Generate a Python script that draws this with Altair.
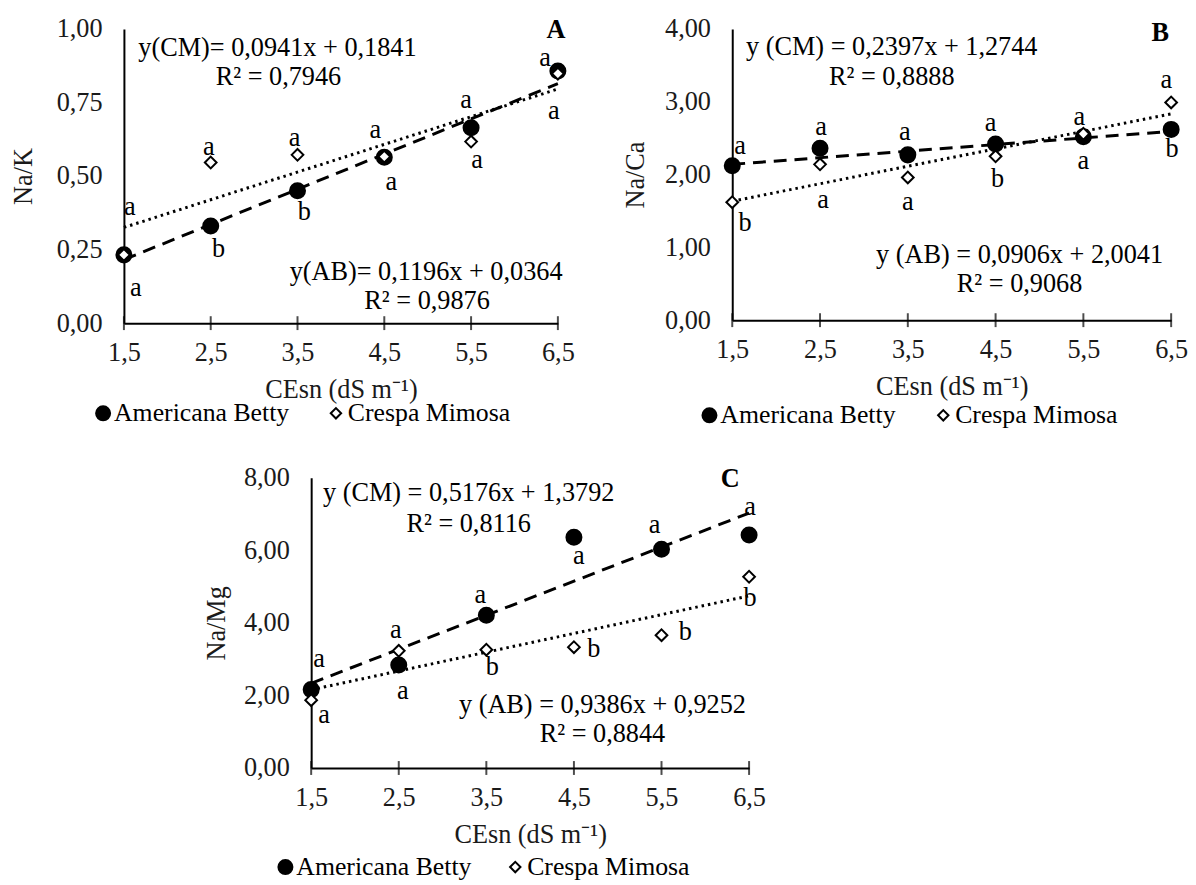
import altair as alt
import pandas as pd

FONT = "Liberation Serif"
FS = 26.5
LFS = 26

# ---------------- data ----------------
x_levels = [1.5, 2.5, 3.5, 4.5, 5.5, 6.5]
series_names = ["Americana Betty", "Crespa Mimosa"]

# Panel A : Na/K
nak_ab = [0.232, 0.33, 0.45, 0.564, 0.664, 0.857]
nak_cm = [0.232, 0.546, 0.572, 0.566, 0.617, 0.848]
nak_ab_letters = ["a", "b", "b", "a", "a", "a"]
nak_cm_letters = ["a", "a", "a", "a", "a", "a"]

# Panel B : Na/Ca
naca_ab = [2.12, 2.36, 2.27, 2.42, 2.52, 2.62]
naca_cm = [1.62, 2.14, 1.96, 2.25, 2.56, 2.99]
naca_ab_letters = ["a", "a", "a", "a", "a", "b"]
naca_cm_letters = ["b", "a", "a", "b", "a", "a"]

# Panel C : Na/Mg
namg_ab = [2.16, 2.84, 4.21, 6.36, 6.03, 6.42]
namg_cm = [1.87, 3.23, 3.26, 3.33, 3.66, 5.27]
namg_ab_letters = ["a", "a", "a", "a", "a", "a"]
namg_cm_letters = ["a", "a", "b", "b", "b", "b"]

# printed trendline coefficients (slope, intercept)
nak_coef = {"Americana Betty": (0.1196, 0.0364), "Crespa Mimosa": (0.0941, 0.1841)}
naca_coef = {"Americana Betty": (0.0906, 2.0041), "Crespa Mimosa": (0.2397, 1.2744)}
namg_coef = {"Americana Betty": (0.9386, 0.9252), "Crespa Mimosa": (0.5176, 1.3792)}

nak_text = ["y(CM)= 0,0941x + 0,1841", "R² = 0,7946", "y(AB)= 0,1196x + 0,0364", "R² = 0,9876", "A"]
naca_text = ["y (CM) = 0,2397x + 1,2744", "R² = 0,8888", "y (AB) = 0,0906x + 2,0041", "R² = 0,9068", "B"]
namg_text = ["y (CM) = 0,5176x + 1,3792", "R² = 0,8116", "y (AB) = 0,9386x + 0,9252", "R² = 0,8844", "C"]

# ---------------- placement of labels (pixels) ----------------
nak_ab_off = [(12, 34), (8, 23), (7, 22), (7, 25), (-5, -28), (-13, -13)]
nak_cm_off = [(6, -48), (-2, -16), (-3, -17), (-9, -27), (6, 19), (-4, 38)]
naca_ab_off = [(8, -20), (1, -21), (-3, -23), (-5, -21), (0, 25), (1, 20)]
naca_cm_off = [(13, 21), (3, 36), (0, 25), (2, 23), (-4, -17), (-5, -23)]
namg_ab_off = [(8, -31), (4, 26), (-6, -20), (5, 19), (-7, -24), (1, -28)]
namg_cm_off = [(13, 15), (-3, -21), (6, 18), (20, 2), (24, -3), (1, 22)]

# annotation positions relative to plot origin: eqCM, R2CM, eqAB, R2AB, letter
nak_pos = [(155, 19), (156, 49), (305, 245), (306, 275), (436, 1)]
naca_pos = [(161, 18), (161, 49), (290, 228), (290, 258), (432, 4)]
namg_pos = [(159, 16), (159, 47), (294, 229), (294, 259), (423, 1)]

# legend positions relative to plot origin: circle x, text x, diamond x, text x, y
nak_leg = (-21, -10, 214, 226, 388)
naca_leg = (-23, -12, 213, 225, 390)
namg_leg = (-26, -15, 206, 218, 393)


def panel(ytitle, ymax, yvals, width, height, ab, cm, ab_let, cm_let,
          ab_off, cm_off, coef, texts, pos, leg, title_pad):
    xsc = alt.Scale(domain=[1.5, 6.5], nice=False, zero=False)
    ysc = alt.Scale(domain=[0, ymax], nice=False)
    xax = alt.Axis(values=x_levels, title="CEsn (dS m⁻¹)", ticks=False, tickSize=0,
                   labelExpr="replace(format(datum.value, '.1f'), '.', ',')",
                   labelFlush=False, labelPadding=17, titlePadding=11, grid=False,
                   domainColor="black", domainWidth=2)
    yax = alt.Axis(values=yvals, title=ytitle, ticks=False, tickSize=0,
                   labelExpr="replace(format(datum.value, '.2f'), '.', ',')",
                   labelFlush=False, labelPadding=22, titlePadding=title_pad, grid=False,
                   domainColor="black", domainWidth=2)

    pts = pd.DataFrame({
        "x": x_levels * 2,
        "v": ab + cm,
        "s": [series_names[0]] * 6 + [series_names[1]] * 6,
    })

    ux = width / 5.0
    uy = height / ymax
    rows = []
    for vals, lets, offs in ((ab, ab_let, ab_off), (cm, cm_let, cm_off)):
        for xi, vi, li, (dx, dy) in zip(x_levels, vals, lets, offs):
            rows.append({"lx": xi + dx / ux, "ly": vi - dy / uy, "t": li})
    letters = pd.DataFrame(rows)

    ticks = pd.DataFrame({"x": x_levels, "z": [0] * len(x_levels)})

    layers = []
    # axis ticks crossing the x axis
    layers.append(
        alt.Chart(ticks).mark_tick(orient="vertical", size=14, thickness=2, color="black")
        .encode(x=alt.X("x:Q", scale=xsc, axis=xax), y=alt.Y("z:Q", scale=ysc, axis=yax))
    )
    # trend lines
    for name, dash in ((series_names[0], [13, 8]), (series_names[1], [2.5, 4])):
        m, b = coef[name]
        ld = pd.DataFrame({"x": [1.5, 6.5], "y": [m * 1.5 + b, m * 6.5 + b]})
        layers.append(
            alt.Chart(ld).mark_line(color="black", strokeWidth=3, strokeDash=dash)
            .encode(x=alt.X("x:Q", scale=xsc, axis=xax), y=alt.Y("y:Q", scale=ysc, axis=yax))
        )
    # points
    layers.append(
        alt.Chart(pts).mark_point(filled=True, stroke="black", strokeWidth=2, opacity=1)
        .encode(
            x=alt.X("x:Q", scale=xsc, axis=xax),
            y=alt.Y("v:Q", scale=ysc, axis=yax),
            shape=alt.Shape("s:N", scale=alt.Scale(domain=series_names, range=["circle", "diamond"]),
                            legend=None),
            fill=alt.Fill("s:N", scale=alt.Scale(domain=series_names, range=["black", "white"]),
                          legend=None),
            size=alt.Size("s:N", scale=alt.Scale(domain=series_names, range=[230, 140]), legend=None),
        )
    )
    # significance letters
    layers.append(
        alt.Chart(letters).mark_text(font=FONT, fontSize=FS, color="black", baseline="middle")
        .encode(x=alt.X("lx:Q", scale=xsc, axis=xax), y=alt.Y("ly:Q", scale=ysc, axis=yax), text="t:N")
    )
    # equations and panel letter
    for i, (t, (px, py)) in enumerate(zip(texts, pos)):
        bold = i == 4
        layers.append(
            alt.Chart(pd.DataFrame({"t": [t]})).mark_text(
                font=FONT, fontSize=FS, color="black", baseline="middle", align="center",
                fontWeight="bold" if bold else "normal")
            .encode(text="t:N", x=alt.value(px), y=alt.value(py))
        )
    # legend (drawn as marks)
    cx, tx1, dx_, tx2, ly = leg
    layers.append(
        alt.Chart(pd.DataFrame({"s": [series_names[0]]})).mark_point(
            shape="circle", filled=True, fill="black", stroke="black", strokeWidth=2, size=200, opacity=1)
        .encode(x=alt.value(cx), y=alt.value(ly))
    )
    layers.append(
        alt.Chart(pd.DataFrame({"s": [series_names[1]]})).mark_point(
            shape="diamond", filled=True, fill="white", stroke="black", strokeWidth=2, size=110, opacity=1)
        .encode(x=alt.value(dx_), y=alt.value(ly))
    )
    layers.append(
        alt.Chart(pd.DataFrame({"s": [series_names[0]]})).mark_text(
            font=FONT, fontSize=LFS, color="black", baseline="middle", align="left")
        .encode(text="s:N", x=alt.value(tx1), y=alt.value(ly))
    )
    layers.append(
        alt.Chart(pd.DataFrame({"s": [series_names[1]]})).mark_text(
            font=FONT, fontSize=LFS, color="black", baseline="middle", align="left")
        .encode(text="s:N", x=alt.value(tx2), y=alt.value(ly))
    )
    return alt.layer(*layers).properties(width=width, height=height)


A = panel("Na/K", 1.0, [0, 0.25, 0.5, 0.75, 1.0], 438, 297, nak_ab, nak_cm,
          nak_ab_letters, nak_cm_letters, nak_ab_off, nak_cm_off, nak_coef,
          nak_text, nak_pos, nak_leg, 19)
B = panel("Na/Ca", 4.0, [0, 1, 2, 3, 4], 443, 294, naca_ab, naca_cm,
          naca_ab_letters, naca_cm_letters, naca_ab_off, naca_cm_off, naca_coef,
          naca_text, naca_pos, naca_leg, 15)
C = panel("Na/Mg", 8.0, [0, 2, 4, 6, 8], 442, 293, namg_ab, namg_cm,
          namg_ab_letters, namg_cm_letters, namg_ab_off, namg_cm_off, namg_coef,
          namg_text, namg_pos, namg_leg, 13)

spacer = (
    alt.Chart(pd.DataFrame({"v": [0]})).mark_point(opacity=0)
    .encode(x=alt.X("v:Q", axis=None), y=alt.Y("v:Q", axis=None))
    .properties(width=80, height=10)
)

top = alt.hconcat(A, B, spacing=48)
bottom = alt.hconcat(spacer, C, spacing=0)

chart = (
    alt.vconcat(top, bottom, spacing=37)
    .properties(padding={"left": 2, "top": 4, "right": 0, "bottom": 0})
    .configure_view(stroke=None)
    .configure_axis(labelFont=FONT, titleFont=FONT, labelFontSize=FS, titleFontSize=FS,
                    labelColor="#1a1a1a", titleColor="#1a1a1a", titleFontWeight="normal")
)

chart.save("out.html", embed_options={"renderer": "svg", "actions": False})
